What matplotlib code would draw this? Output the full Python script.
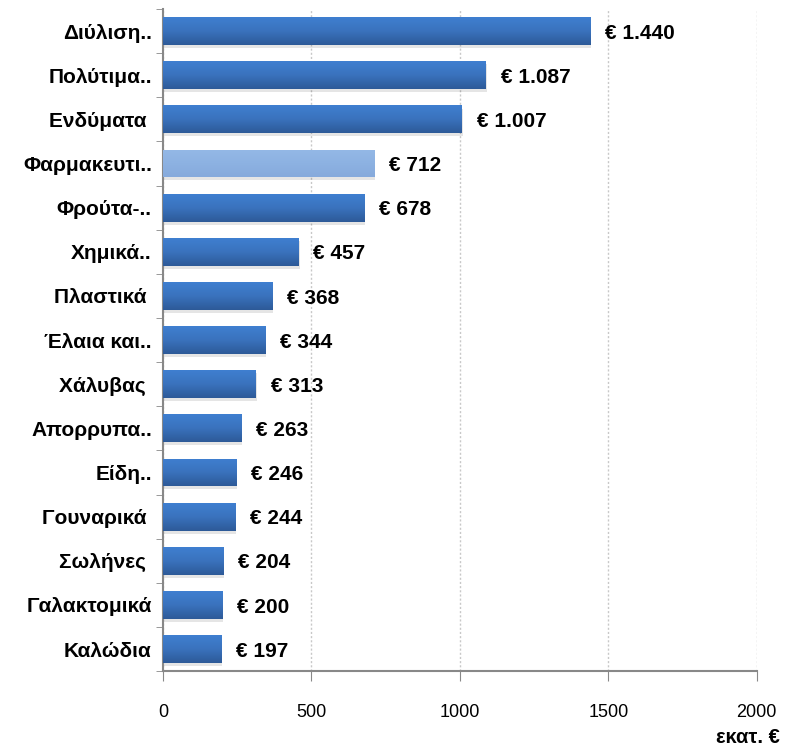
import matplotlib.pyplot as plt
import numpy as np
from matplotlib.colors import LinearSegmentedColormap

plt.rcParams["font.family"] = ["Liberation Sans", "DejaVu Sans"]

# --------------------------------------------------------------------------- #
#  data
# --------------------------------------------------------------------------- #

categories = [
    "Διύλιση..", "Πολύτιμα..", "Ενδύματα ", "Φαρμακευτι..", "Φρούτα-..",
    "Χημικά..", "Πλαστικά ", "Έλαια και..", "Χάλυβας ", "Απορρυπα..",
    "Είδη..", "Γουναρικά ", "Σωλήνες ", "Γαλακτομικά", "Καλώδια",
]
values = [1440, 1087, 1007, 712, 678, 457, 368, 344, 313, 263, 246, 244, 204, 200, 197]
value_labels = ["€ 1.440", "€ 1.087", "€ 1.007", "€ 712", "€ 678", "€ 457", "€ 368",
                "€ 344", "€ 313", "€ 263", "€ 246", "€ 244", "€ 204", "€ 200", "€ 197"]
highlight = "Φαρμακευτι.."
x_ticks = [0, 500, 1000, 1500, 2000]

fig = plt.figure(figsize=(7.85, 7.49), dpi=100)
ax = fig.add_axes([0.2076, 0.104, 0.7564, 0.884])

y = np.arange(len(categories))
height = 0.63
blue_grad = LinearSegmentedColormap.from_list("bg", ["#3f7fd0", "#3a72bd", "#2d5a98"])
light_grad = LinearSegmentedColormap.from_list("lg", ["#94b8e6", "#8db2e2", "#86aadc"])

grad = np.linspace(0, 1, 64).reshape(-1, 1)
for yi, v, cat in zip(y, values, categories):
    # soft shadow underneath
    ax.barh(yi + 0.07, v + 3, height=height, left=0, color="#000000", alpha=0.10,
            linewidth=0, zorder=2)
    bar = ax.barh(yi, v, height=height, color="none", linewidth=0, zorder=3)[0]
    cmap = light_grad if cat == highlight else blue_grad
    im = ax.imshow(grad, cmap=cmap, aspect="auto", zorder=3,
                   extent=[0, v, yi + height / 2, yi - height / 2])
    im.set_clip_path(bar)

for yi, v, lab in zip(y, values, value_labels):
    ax.text(v + 50, yi + 0.05, lab, va="center", ha="left", fontsize=15, fontweight="bold")

ax.set_xlim(0, 2000)
ax.set_ylim(len(categories) - 0.5, -0.5)
ax.set_xticks(x_ticks)
ax.set_xticklabels([str(t) for t in x_ticks], fontsize=13)
ax.set_yticks(y)
ax.set_yticklabels(categories, fontsize=15, fontweight="bold")
ax.tick_params(axis="y", length=0, pad=8)
ax.set_yticks(np.arange(-0.5, len(categories), 1), minor=True)
ax.tick_params(axis="y", which="minor", length=5, color="#888888", direction="out")
ax.tick_params(axis="x", length=7, color="#888888", pad=17)

ax.xaxis.grid(True, linestyle=(0, (1.5, 1.5)), color="#c8c8c8", linewidth=1)
ax.set_axisbelow(True)
for s in ["top", "right"]:
    ax.spines[s].set_visible(False)
for s in ["left", "bottom"]:
    ax.spines[s].set_color("#888888")
    ax.spines[s].set_linewidth(1.5)

fig.text(0.993, 0.003, "εκατ. €", ha="right", va="bottom", fontsize=14.5, fontweight="bold")

fig.savefig("out.png", dpi=100)
